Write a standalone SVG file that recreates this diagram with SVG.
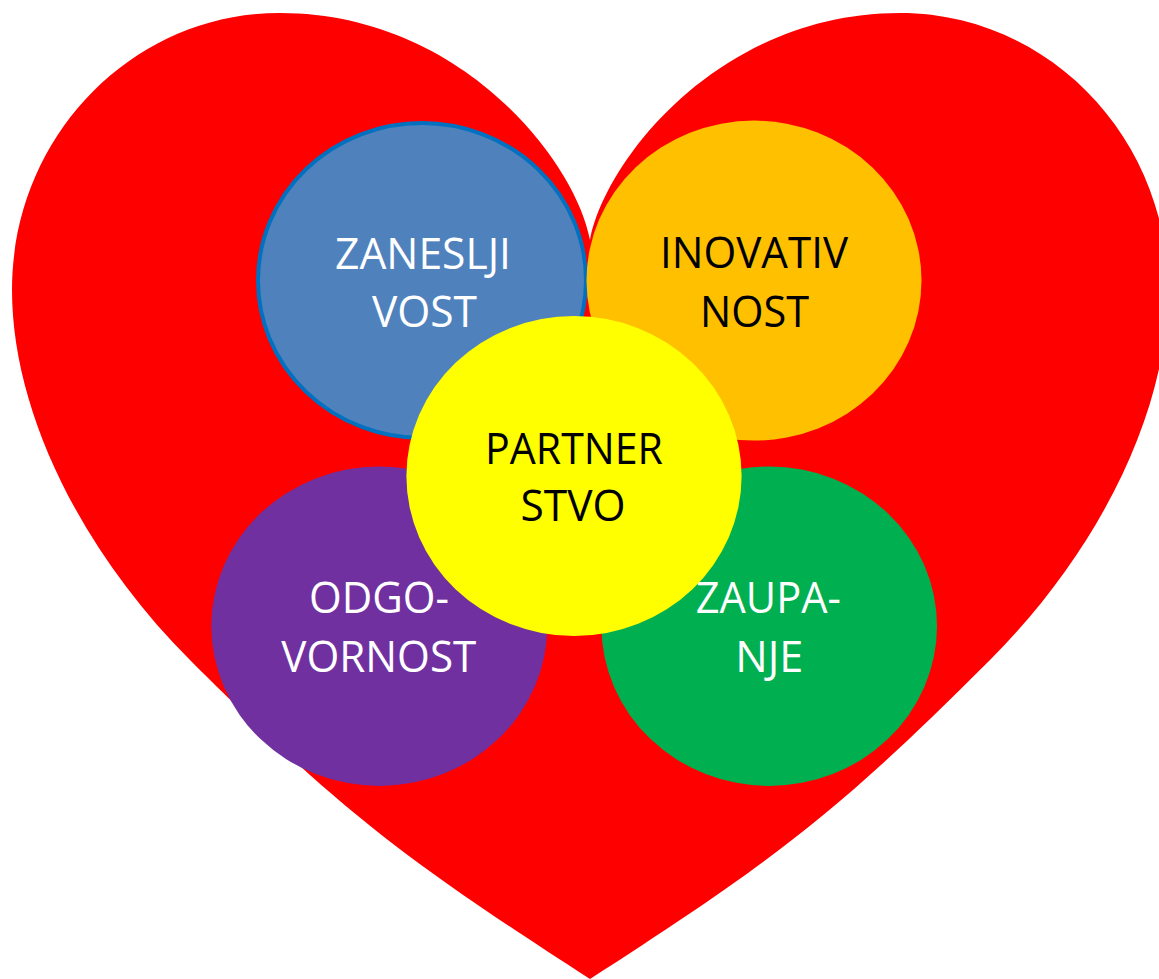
<svg xmlns="http://www.w3.org/2000/svg" width="1159" height="979" viewBox="0 0 1159 979">
  <style>
    .lbl { font-family: "Open Sans", "Liberation Sans", sans-serif; font-size: 43px; text-anchor: middle; }
    .w { fill: #FFFFFF; }
    .k { fill: #000000; }
  </style>
  <rect width="1159" height="979" fill="#FFFFFF"/>
  <g id="heart">
    <path fill="#FF0000" d="M590,240 C575,160 460,13 280,13 C132,13 12,137 12,290 C12,410 80,550 190,660 C340,810 400,856.45 590,979 C780,856.45 840,810 990,660 C1100,550 1168,410 1168,290 C1168,137 1048,13 900,13 C720,13 605,160 590,240 Z"/>
  </g>
  <g id="connectors"></g>
  <g id="zanesljivost">
    <ellipse cx="422" cy="280.5" rx="164" ry="157.5" fill="#4F81BD" stroke="#0070C0" stroke-width="4"/>
    <text class="lbl w" x="423" y="268.5" textLength="176" lengthAdjust="spacingAndGlyphs">ZANESLJI</text>
    <text class="lbl w" x="424.5" y="326.7" textLength="105" lengthAdjust="spacingAndGlyphs">VOST</text>
  </g>
  <g id="inovativnost">
    <ellipse cx="754" cy="280.6" rx="167.5" ry="160" fill="#FFC000"/>
    <text class="lbl k" x="754" y="267.7" textLength="188" lengthAdjust="spacingAndGlyphs">INOVATIV</text>
    <text class="lbl k" x="754.5" y="326.7" textLength="109" lengthAdjust="spacingAndGlyphs">NOST</text>
  </g>
  <g id="odgovornost">
    <ellipse cx="379.3" cy="626.2" rx="168" ry="159.7" fill="#7030A0"/>
    <text class="lbl w" x="379" y="613.4" textLength="140" lengthAdjust="spacingAndGlyphs">ODGO-</text>
    <text class="lbl w" x="378.8" y="672" textLength="195" lengthAdjust="spacingAndGlyphs">VORNOST</text>
  </g>
  <g id="zaupanje">
    <ellipse cx="769.2" cy="626.2" rx="167.8" ry="159.7" fill="#00B050"/>
    <text class="lbl w" x="768.3" y="613.4" textLength="145" lengthAdjust="spacingAndGlyphs">ZAUPA-</text>
    <text class="lbl w" x="769.3" y="672" textLength="68" lengthAdjust="spacingAndGlyphs">NJE</text>
  </g>
  <g id="partnerstvo">
    <ellipse cx="574" cy="476" rx="167.6" ry="160" fill="#FFFF00"/>
    <text class="lbl k" x="574" y="463.5" textLength="178" lengthAdjust="spacingAndGlyphs">PARTNER</text>
    <text class="lbl k" x="573" y="521" textLength="105" lengthAdjust="spacingAndGlyphs">STVO</text>
  </g>
</svg>
